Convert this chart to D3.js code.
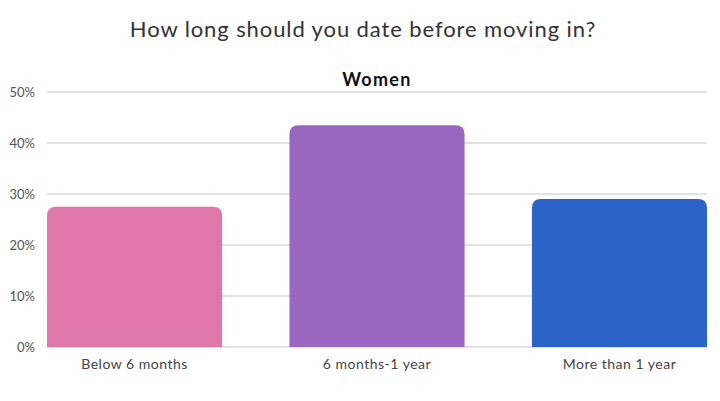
<!DOCTYPE html>
<html>
<head>
    <meta charset="utf-8">
    <script src="https://cdn.jsdelivr.net/npm/d3@7/dist/d3.min.js"></script>
    <style>
        body {
            margin: 0;
            background: #fff;
        }

        .y.axis text {
            font: 13px "Lato", sans-serif;
            fill: #555;
        }

        .x.axis text {
            font: 14px "Lato", sans-serif;
            letter-spacing: 0.5px;
            fill: #444;
        }

        .axis path {
            display: none;
        }

        .grid line {
            stroke: #e2e2e2;
            stroke-width: 2;
        }

        .title {
            font: 22px "Lato", sans-serif;
            letter-spacing: 0.9px;
            fill: #333;
        }

        .subtitle {
            font: bold 18px "Lato", sans-serif;
            letter-spacing: 1.3px;
            fill: #111;
        }
    </style>
</head>
<body>
<div id="chart"></div>
<script type="text/javascript">
    // データ
    var categories = ["Below 6 months", "6 months-1 year", "More than 1 year"];
    var women = [27.5, 43.5, 29];
    var barColors = ["#E077AA", "#9966C0", "#2B63C7"];
    var yTicks = [0, 10, 20, 30, 40, 50];

    var W = 720, H = 401;
    var margin = {top: 92, right: 13, bottom: 54, left: 47},
        width = W - margin.left - margin.right,
        height = H - margin.top - margin.bottom;

    var root = d3.select("#chart").append("svg")
        .attr("width", W)
        .attr("height", H);

    root.append("text")
        .attr("class", "title")
        .attr("x", 363)
        .attr("y", 37)
        .attr("text-anchor", "middle")
        .text("How long should you date before moving in?");

    root.append("text")
        .attr("class", "subtitle")
        .attr("x", 377)
        .attr("y", 86)
        .attr("text-anchor", "middle")
        .text("Women");

    var svg = root.append("g")
        .attr("transform", "translate(" + margin.left + "," + margin.top + ")");

    var xScale = d3.scaleBand().domain(categories).range([0, width])
        .paddingInner(0.278).paddingOuter(0);
    var yScale = d3.scaleLinear().domain([0, 50]).range([height, 0]);

    // グリッド線
    svg.append("g")
        .attr("class", "grid")
        .selectAll("line").data(yTicks).enter()
        .append("line")
        .attr("x1", 0)
        .attr("x2", width)
        .attr("y1", function (d) { return yScale(d); })
        .attr("y2", function (d) { return yScale(d); });

    var yAxis = d3.axisLeft(yScale).tickValues(yTicks).tickSize(0).tickPadding(12)
        .tickFormat(function (d) { return d + "%"; });
    svg.append("g")
        .attr("class", "y axis")
        .call(yAxis);

    // 上側だけ角丸の棒
    var r = 9;
    function barPath(x, y, w, h) {
        var rr = Math.min(r, h / 2, w / 2);
        return "M" + x + "," + (y + h) +
            "V" + (y + rr) +
            "Q" + x + "," + y + " " + (x + rr) + "," + y +
            "H" + (x + w - rr) +
            "Q" + (x + w) + "," + y + " " + (x + w) + "," + (y + rr) +
            "V" + (y + h) + "Z";
    }

    svg.selectAll(".bar").data(women).enter()
        .append("path")
        .attr("class", "bar")
        .attr("fill", function (d, i) { return barColors[i]; })
        .attr("d", function (d, i) {
            return barPath(xScale(categories[i]), yScale(d), xScale.bandwidth(), height - yScale(d));
        });

    var xAxis = d3.axisBottom(xScale).tickSize(0).tickPadding(12);
    svg.append("g")
        .attr("class", "x axis")
        .attr("transform", "translate(0," + height + ")")
        .call(xAxis);
</script>
</body>
</html>
